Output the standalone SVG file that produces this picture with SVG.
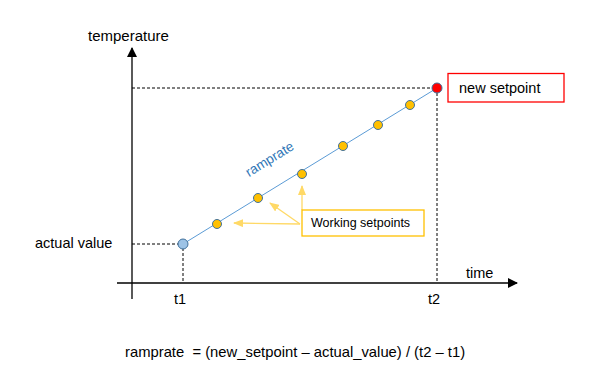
<svg xmlns="http://www.w3.org/2000/svg" width="612" height="388" viewBox="0 0 612 388">
<style>
text{font-family:"Liberation Sans",Arial,sans-serif;font-size:14.5px;fill:#000;white-space:pre}
.axis{stroke:#000;stroke-width:1.3;fill:none}
.dash{stroke:#000;stroke-width:1;stroke-dasharray:3,2;fill:none}
.pt{stroke:#41719C;stroke-width:1}
.ws{fill:#FFC000}
.ptr{stroke:#FFD966;stroke-width:1.3;fill:none}
</style>
<defs>
<marker id="ah" markerWidth="10" markerHeight="10" refX="9" refY="5" orient="auto" markerUnits="userSpaceOnUse"><path d="M0,0 L10,5 L0,10 Z" fill="#000"/></marker>
<marker id="ay" markerWidth="10" markerHeight="8" refX="9" refY="4" orient="auto" markerUnits="userSpaceOnUse"><path d="M0,0 L10,4 L0,8 Z" fill="#FFD966"/></marker>
</defs>
<g id="connectors">
<line class="axis" x1="132" y1="299" x2="132" y2="48" marker-end="url(#ah)"/>
<line class="axis" x1="117" y1="283" x2="517" y2="283" marker-end="url(#ah)"/>
<polyline class="dash" points="132,244 183,244 183,283"/>
<polyline class="dash" points="132,88 437,88 437,283"/>
<line x1="183" y1="244" x2="437" y2="88" stroke="#5B9BD5" stroke-width="1"/>
<line class="ptr" x1="300" y1="224" x2="234" y2="223" marker-end="url(#ay)"/>
<line class="ptr" x1="300" y1="224" x2="270" y2="203" marker-end="url(#ay)"/>
<line class="ptr" x1="302" y1="210" x2="302" y2="186" marker-end="url(#ay)"/>
</g>
<g id="start"><circle class="pt" cx="183" cy="244" r="5" fill="#9DC3E6"/></g>
<g id="end"><circle class="pt" cx="437" cy="88" r="5" fill="#FF0000"/></g>
<g id="working-points">
<circle class="pt ws" cx="217" cy="224" r="4.5"/>
<circle class="pt ws" cx="258" cy="198" r="4.5"/>
<circle class="pt ws" cx="302" cy="174" r="4.5"/>
<circle class="pt ws" cx="343" cy="146" r="4.5"/>
<circle class="pt ws" cx="378" cy="125" r="4.5"/>
<circle class="pt ws" cx="410" cy="105" r="4.5"/>
</g>
<g id="new-setpoint">
<rect x="448" y="73.5" width="116" height="28.5" fill="#fff" stroke="#FF0000" stroke-width="1.3"/>
<text x="459" y="93">new setpoint</text>
</g>
<g id="working-setpoints">
<rect x="302" y="210" width="122" height="26" fill="#fff" stroke="#FFC000" stroke-width="1.3"/>
<text x="311" y="227" style="font-size:12.5px">Working setpoints</text>
</g>
<g id="labels">
<text x="88" y="41" style="font-size:15px">temperature</text>
<text x="35" y="248">actual value</text>
<text x="180" y="304" text-anchor="middle">t1</text>
<text x="434" y="304" text-anchor="middle">t2</text>
<text x="466" y="278">time</text>
<text x="272" y="163" text-anchor="middle" transform="rotate(-31.6 272 163)" style="fill:#2E75B6;font-size:13.5px">ramprate</text>
<text x="125" y="357" style="font-size:14.8px">ramprate  = (new_setpoint – actual_value) / (t2 – t1)</text>
</g>
</svg>
